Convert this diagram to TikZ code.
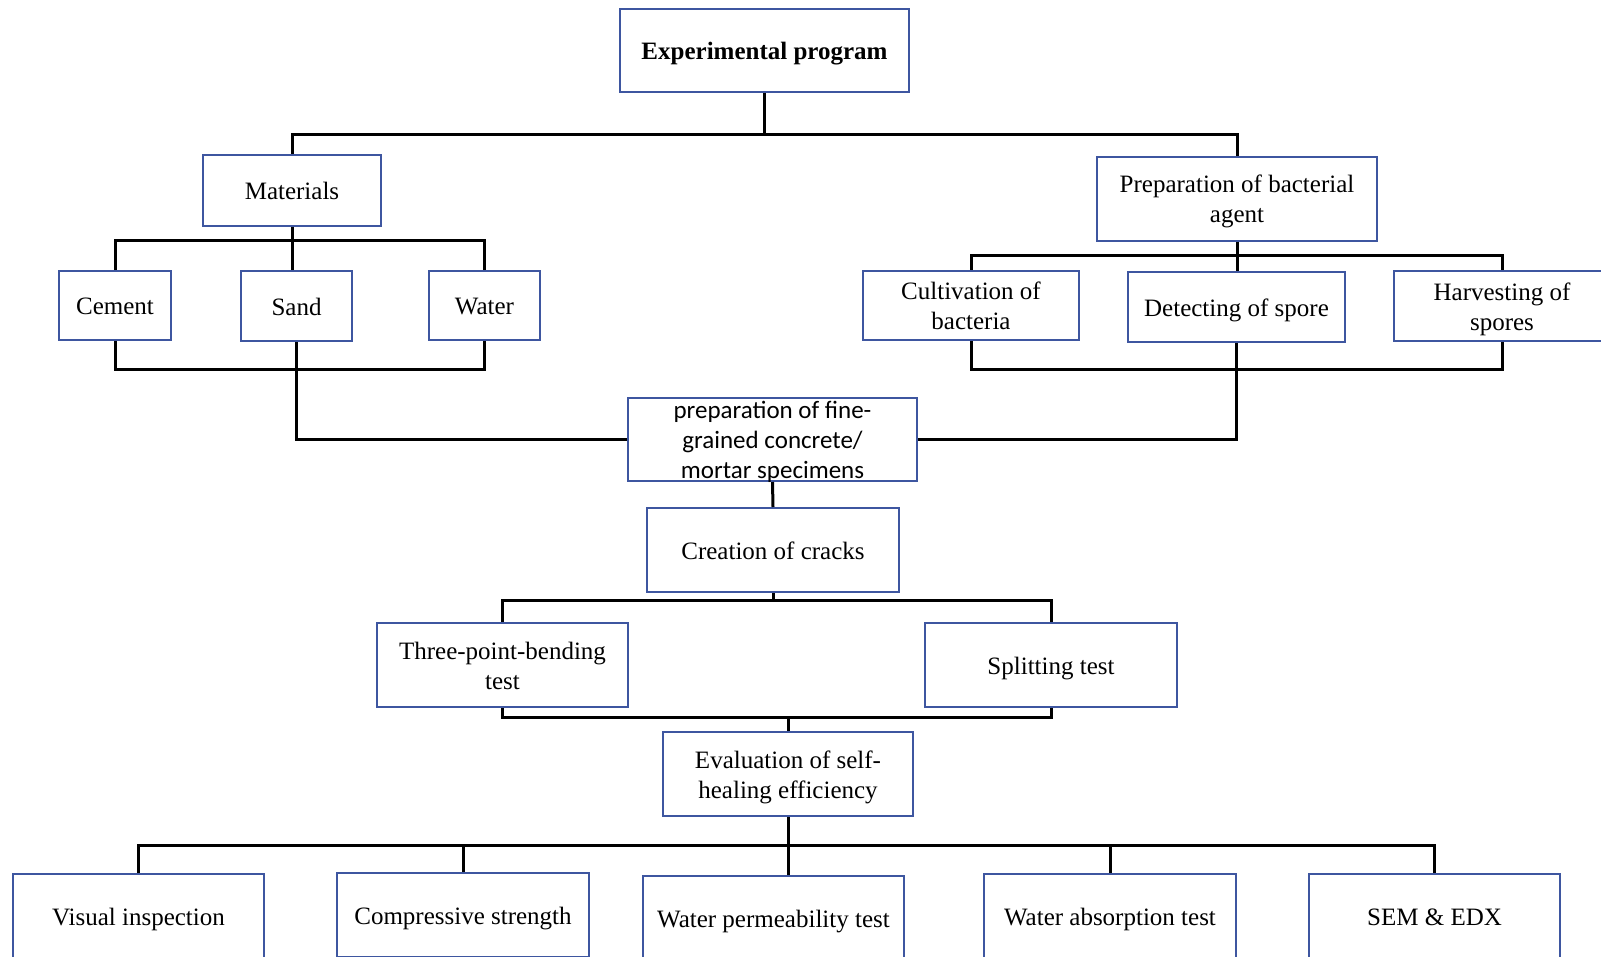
\documentclass[tikz,border=0pt]{standalone}
\usepackage{fontspec}
\setmainfont{Liberation Serif}
\newfontfamily\calibrifont{Carlito}
\usepackage{xcolor}
\definecolor{boxblue}{RGB}{62,86,160}
\usetikzlibrary{calc}
\tikzset{
    box/.style={draw=boxblue, line width=1pt, fill=white, align=center, inner sep=0pt,
        text height=9pt, text depth=0pt,
        font=\fontsize{12.5}{15}\selectfont},  % all boxes, one line of text
    twolines/.style={box, text height=24pt},   % two lines of text
    threelines/.style={box, text height=39pt}, % three lines of text
    conn/.style={line width=1.5pt, line join=miter}, % black connectors
}

\begin{document}
\begin{tikzpicture}[x=0.5pt, y=-0.5pt]
    \useasboundingbox (0,0) rectangle (1601,957);
    \clip (0,0) rectangle (1601,957);
    \coordinate (topbar) at (0,135);
    \coordinate (matbar) at (0,241);
    \coordinate (bactbar) at (0,256);
    \coordinate (lowbar) at (0,369);
    \coordinate (crackbar) at (0,600);
    \coordinate (testbar) at (0,717);
    \coordinate (evalbar) at (0,845);

    \node[box, minimum width=144.5pt, minimum height=41.5pt, font=\fontsize{12.5}{15}\selectfont\bfseries] (expprog) at (764.5,50.5) {Experimental program};
    \node[box, minimum width=89pt, minimum height=35.5pt] (materials) at (292,190.5) {Materials};
    \node[twolines, minimum width=140pt, minimum height=42pt] (bactagent) at (1237,199) {Preparation of bacterial\\agent};
    \node[box, minimum width=56pt, minimum height=34.5pt] (cement) at (115,305.5) {Cement};
    \node[box, minimum width=55.5pt, minimum height=35pt] (sand) at (296.5,306) {Sand};
    \node[box, minimum width=55.5pt, minimum height=34.5pt] (water) at (484.5,305.5) {Water};
    \node[twolines, minimum width=108pt, minimum height=34.5pt] (cultiv) at (971,305.5) {Cultivation of\\bacteria};
    \node[box, minimum width=108.5pt, minimum height=35pt] (detect) at (1236.5,307) {Detecting of spore};
    \node[twolines, minimum width=108pt, minimum height=35pt] (harvest) at (1502,306) {Harvesting of\\spores};
    \node[threelines, minimum width=144.5pt, minimum height=41.5pt, font=\calibrifont\fontsize{12.5}{15}\selectfont] (specimen) at (772.5,439.5) {preparation of fine-\\grained concrete/\\mortar specimens};
    \node[box, minimum width=126pt, minimum height=42pt] (cracks) at (773,550) {Creation of cracks};
    \node[twolines, minimum width=125.5pt, minimum height=42pt] (threepoint) at (502.5,665) {Three-point-bending\\test};
    \node[box, minimum width=126pt, minimum height=42pt] (splitting) at (1051,665) {Splitting test};
    \node[twolines, minimum width=125pt, minimum height=42pt] (evaluation) at (788,774) {Evaluation of self-\\healing efficiency};
    \node[box, minimum width=125.5pt, minimum height=42pt] (visual) at (138.5,916) {Visual inspection};
    \node[box, minimum width=126pt, minimum height=42pt] (compress) at (463,915) {Compressive strength};
    \node[box, minimum width=130.5pt, minimum height=42pt] (waterperm) at (773.5,918) {Water permeability test};
    \node[box, minimum width=126pt, minimum height=42pt] (waterabs) at (1110,916) {Water absorption test};
    \node[box, minimum width=125.5pt, minimum height=42pt] (semedx) at (1434.5,916) {SEM \& EDX};

    \draw[conn] (expprog.south) -- (expprog.south |- topbar);
    \draw[conn] (materials.north) |- (bactagent.north |- topbar) -- (bactagent.north);
    \draw[conn] (cement.north) |- (water.north |- matbar) -- (water.north);
    \draw[conn] (materials.south) -- (materials.south |- sand.north);
    \draw[conn] (cement.south) |- (water.south |- lowbar) -- (water.south);
    \draw[conn] (sand.south) |- (specimen.west);
    \draw[conn] (cultiv.north) |- (harvest.north |- bactbar) -- (harvest.north);
    \draw[conn] (bactagent.south) -- (bactagent.south |- detect.north);
    \draw[conn] (cultiv.south) |- (harvest.south |- lowbar) -- (harvest.south);
    \draw[conn] (detect.south) |- (specimen.east);
    \draw[conn] (specimen.south) -- (cracks.north);
    \draw[conn] (threepoint.north) |- (splitting.north |- crackbar) -- (splitting.north);
    \draw[conn] (cracks.south) -- (cracks.south |- crackbar);
    \draw[conn] (threepoint.south) |- (splitting.south |- testbar) -- (splitting.south);
    \draw[conn] (evaluation.north) -- (evaluation.north |- testbar);
    \draw[conn] (visual.north) |- (semedx.north |- evalbar) -- (semedx.north);
    \draw[conn] (evaluation.south) -- (evaluation.south |- waterperm.north);
    \draw[conn] (compress.north) -- (compress.north |- evalbar);
    \draw[conn] (waterabs.north) -- (waterabs.north |- evalbar);
\end{tikzpicture}
\end{document}
